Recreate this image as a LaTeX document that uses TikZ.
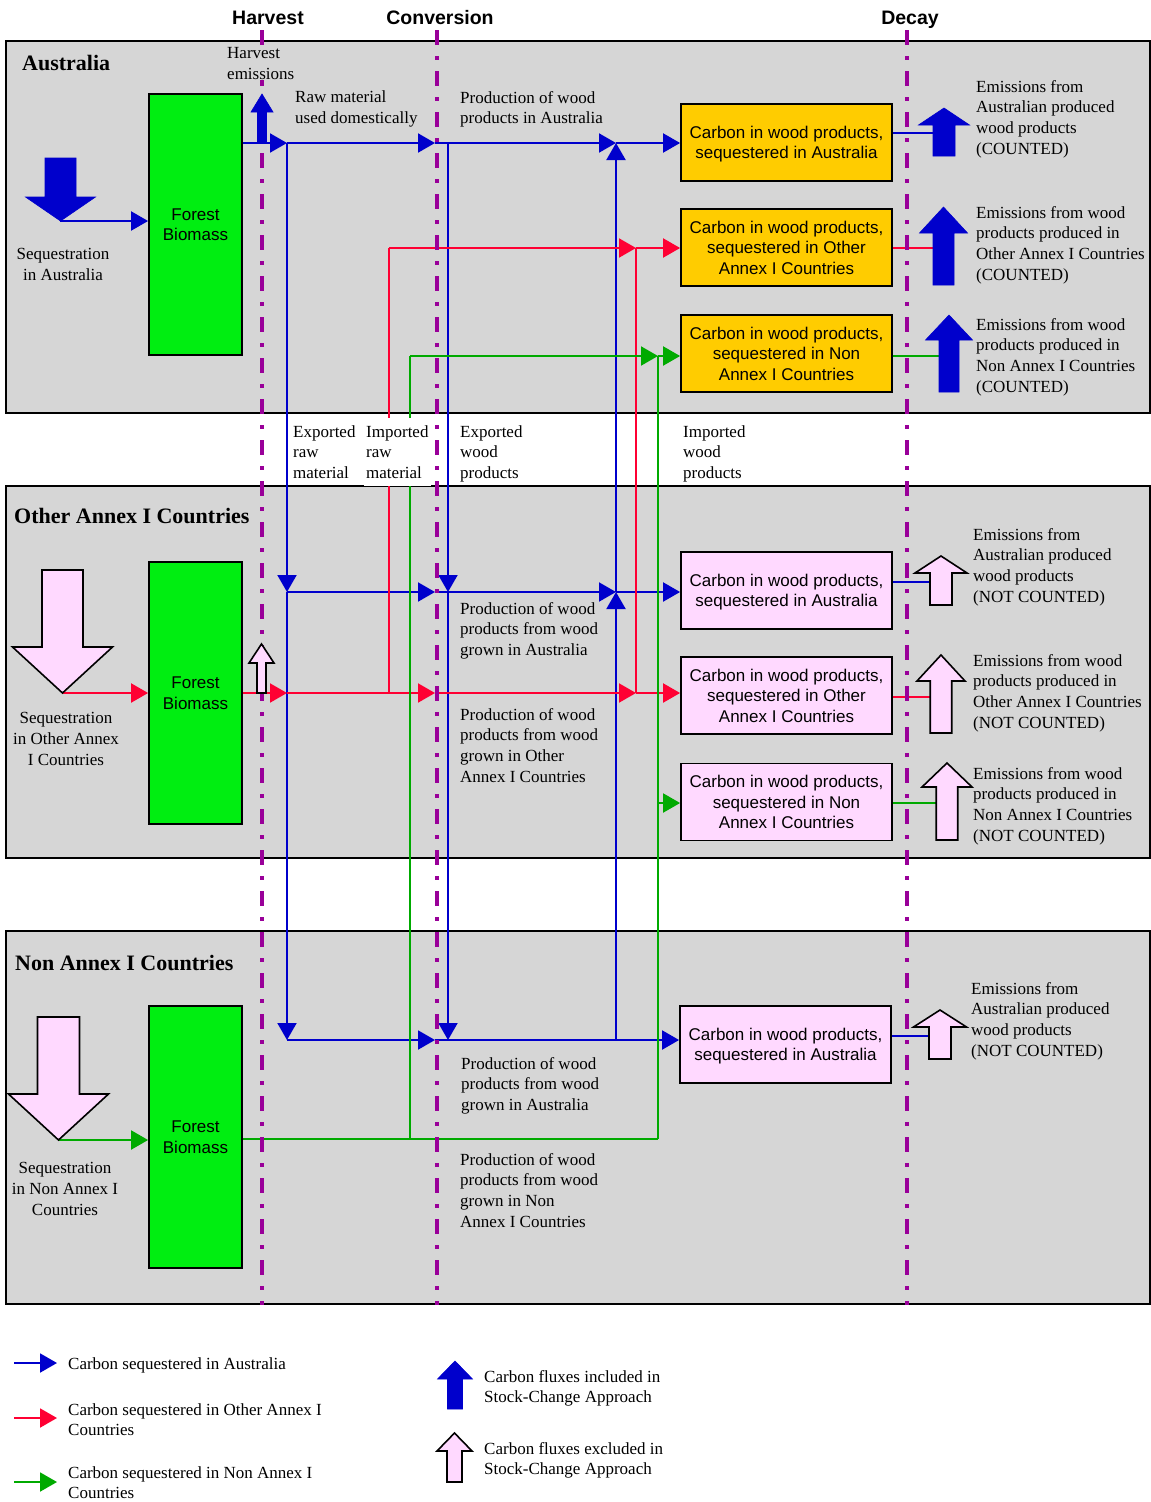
\documentclass[tikz,border=0pt]{standalone}
\usepackage{fontspec}
\setmainfont{Liberation Serif}
\setsansfont{Liberation Sans}
\usetikzlibrary{arrows.meta}
\definecolor{cblue}{RGB}{0,0,204}
\definecolor{cred}{RGB}{255,0,51}
\definecolor{cgreen}{RGB}{0,170,0}
\definecolor{cpurple}{RGB}{153,0,153}
\definecolor{cgray}{RGB}{214,214,214}
\definecolor{cpink}{RGB}{255,217,255}
\definecolor{cyellow}{RGB}{255,204,0}
\definecolor{cforest}{RGB}{0,238,17}
% style, tip x, tip y, head half width, head base y, shaft half width, bottom y
\newcommand{\blkarrow}[7]{\draw[#1] (#2,#3) -- (#2+#4,#5) -- (#2+#6,#5) -- (#2+#6,#7) -- (#2-#6,#7) -- (#2-#6,#5) -- (#2-#4,#5) -- cycle;}
\begin{document}
\begin{tikzpicture}[x=1pt,y=-1pt,
  region/.style={draw=black,line width=2pt,fill=cgray},
  forest/.style={draw=black,line width=1.8pt,fill=cforest,minimum width=93pt,minimum height=261pt,inner sep=0pt,font=\sffamily\fontsize{17}{20.5}\selectfont,align=center},
  cbox/.style={draw=black,line width=1.8pt,minimum width=211pt,minimum height=77pt,inner sep=0pt,font=\sffamily\fontsize{17}{20.5}\selectfont,align=center},
  ybox/.style={cbox,fill=cyellow},
  pbox/.style={cbox,fill=cpink},
  lbl/.style={font=\fontsize{17}{20.8}\selectfont,align=left,anchor=north west,inner sep=0pt},
  clbl/.style={font=\fontsize{17}{20.8}\selectfont,align=center,anchor=north,inner sep=0pt},
  ttl/.style={font=\bfseries\fontsize{22}{26}\selectfont,anchor=west,inner sep=0pt},
  phase/.style={font=\sffamily\bfseries\fontsize{19.5}{23}\selectfont,inner sep=0pt,anchor=base},
  divider/.style={cpurple,line width=4pt,dash pattern=on 15pt off 11pt on 4pt off 11pt},
  fl/.style={line width=2pt,-{Triangle[length=17pt,width=19pt]}},
  bl/.style={fl,cblue}, rl/.style={fl,cred}, gl/.style={fl,cgreen},
  bn/.style={line width=2pt,cblue}, rn/.style={line width=2pt,cred}, gn/.style={line width=2pt,cgreen},
  solidarr/.style={fill=cblue,draw=cblue,line width=0.6pt},
  hollowarr/.style={fill=cpink,draw=black,line width=1.6pt}
]
\fill[white] (0,0) rectangle (1151,1502);
\useasboundingbox (0,0) rectangle (1151,1502);

% regions
\draw[region] (6,41) rectangle (1150,413);
\draw[region] (6,486) rectangle (1150,858);
\draw[region] (6,931) rectangle (1150,1304);

% boxes
\node[forest] (fA) at (195.5,224.5) {Forest\\Biomass};
\node[forest,minimum height=262pt] (fO) at (195.5,693) {Forest\\Biomass};
\node[forest,minimum height=262pt] (fN) at (195.5,1137) {Forest\\Biomass};

\node[ybox] (yA1) at (786.5,142.5) {Carbon in wood products,\\\smash{sequestered in Australia}};
\node[ybox] (yA2) at (786.5,247.5) {Carbon in wood products,\\sequestered in Other\\Annex I Countries};
\node[ybox] (yA3) at (786.5,353.5) {Carbon in wood products,\\sequestered in Non\\Annex I Countries};

\node[pbox] (pO1) at (786.5,590.5) {Carbon in wood products,\\\smash{sequestered in Australia}};
\node[pbox] (pO2) at (786.5,695.5) {Carbon in wood products,\\sequestered in Other\\Annex I Countries};
\node[pbox] (pO3) at (786.5,802) {Carbon in wood products,\\sequestered in Non\\Annex I Countries};
\node[pbox] (pN1) at (785.5,1044.5) {Carbon in wood products,\\\smash{sequestered in Australia}};

% junction coordinates
\coordinate (sqA) at (60,221);
\coordinate (sqO) at (63,693);
\coordinate (sqN) at (58.5,1140);
\coordinate (a287) at (287,143);
\coordinate (a435) at (435,143);
\coordinate (a448) at (448,143);
\coordinate (a616) at (616,143);
\coordinate (o287) at (287,592);
\coordinate (o435) at (435,592);
\coordinate (o448) at (448,592);
\coordinate (o616) at (616,592);
\coordinate (n287) at (287,1040);
\coordinate (n435) at (435,1040);
\coordinate (n448) at (448,1040);
\coordinate (n616) at (616,1040);
\coordinate (ra389) at (389,248);
\coordinate (ra636) at (636,248);
\coordinate (ro287) at (287,693);
\coordinate (ro389) at (389,693);
\coordinate (ro435) at (435,693);
\coordinate (ro636) at (636,693);
\coordinate (ga410) at (410,356);
\coordinate (ga658) at (658,356);
\coordinate (go658) at (658,803);
\coordinate (gn410) at (410,1139);
\coordinate (gn658) at (658,1139);

% blue flows
\draw[bl] (sqA) -- (fA.west |- sqA);
\draw[bl] (fA.east |- a287) -- (a287);
\draw[bl] (a287) -- (a435);
\draw[bl] (a435) -- (a616);
\draw[bl] (a616) -- (yA1.west |- a616);
\draw[bl] (a287) -- (o287);
\draw[bl] (o287) -- (n287);
\draw[bl] (a448) -- (o448);
\draw[bl] (o448) -- (n448);
\draw[bl] (n616) -- (o616);
\draw[bl] (o616) -- (a616);
\draw[bl] (o287) -- (o435);
\draw[bl] (o435) -- (o616);
\draw[bl] (o616) -- (pO1.west |- o616);
\draw[bl] (n287) -- (n435);
\draw[bl] (n435) -- (pN1.west |- n435);

% red flows
\draw[rl] (sqO) -- (fO.west |- sqO);
\draw[rl] (fO.east |- ro287) -- (ro287);
\draw[rl] (ro287) -- (ro435);
\draw[rl] (ro435) -- (ro636);
\draw[rl] (ro636) -- (pO2.west |- ro636);
\draw[rn] (ro389) -- (ra389);
\draw[rl] (ra389) -- (ra636);
\draw[rl] (ra636) -- (yA2.west |- ra636);
\draw[rn] (ro636) -- (ra636);

% green flows
\draw[gl] (sqN) -- (fN.west |- sqN);
\draw[gn] (fN.east |- gn410) -- (gn658);
\draw[gn] (gn410) -- (ga410);
\draw[gl] (ga410) -- (ga658);
\draw[gl] (ga658) -- (yA3.west |- ga658);
\draw[gn] (gn658) -- (ga658);
\draw[gl] (go658) -- (pO3.west |- go658);

% emission connectors
\coordinate (eA1) at (933,133);
\coordinate (eA2) at (933,248);
\coordinate (eA3) at (939,356);
\coordinate (eO1) at (930,582);
\coordinate (eO2) at (930,697);
\coordinate (eO3) at (936,803);
\coordinate (eN1) at (929,1036);
\draw[bn,line width=1.6pt] (yA1.east |- eA1) -- (eA1);
\draw[rn,line width=1.6pt] (yA2.east |- eA2) -- (eA2);
\draw[gn,line width=1.6pt] (yA3.east |- eA3) -- (eA3);
\draw[bn,line width=1.6pt] (pO1.east |- eO1) -- (eO1);
\draw[rn,line width=1.6pt] (pO2.east |- eO2) -- (eO2);
\draw[gn,line width=1.6pt] (pO3.east |- eO3) -- (eO3);
\draw[bn,line width=1.6pt] (pN1.east |- eN1) -- (eN1);

% stage dividers
\coordinate (dvH1) at (262,30);
\coordinate (dvH2) at (262,1305);
\coordinate (dvC1) at (437,30);
\coordinate (dvC2) at (437,1305);
\coordinate (dvD1) at (907,30);
\coordinate (dvD2) at (907,1305);
\draw[divider] (dvH1) -- (dvH2);
\draw[divider] (dvC1) -- (dvC2);
\draw[divider] (dvD1) -- (dvD2);

% block arrows: sequestration
\blkarrow{solidarr}{60.5}{221}{35}{197}{15.5}{158}
\blkarrow{hollowarr}{62.5}{693}{50}{647}{20.5}{570}
\blkarrow{hollowarr}{58.5}{1140}{50}{1094}{21}{1017}
% harvest emissions
\blkarrow{solidarr}{262}{94}{11}{112}{4.5}{143}
\blkarrow{hollowarr}{261.5}{644}{12.5}{663}{4.5}{693}
% decay emissions
\blkarrow{solidarr}{944}{108}{25.5}{125}{11}{156}
\blkarrow{solidarr}{943.5}{207}{24}{233}{10.5}{285}
\blkarrow{solidarr}{949}{315}{23.5}{340}{10}{392}
\blkarrow{hollowarr}{941}{556}{26}{573}{11}{605}
\blkarrow{hollowarr}{941}{655}{24}{681}{10.75}{733}
\blkarrow{hollowarr}{947}{763}{25}{787}{10.75}{840}
\blkarrow{hollowarr}{940}{1010}{26.5}{1027}{11}{1059}
% legend arrows
\blkarrow{solidarr}{455}{1361}{17.5}{1379}{7.5}{1409}
\blkarrow{hollowarr}{454.5}{1433}{17.5}{1451}{7.5}{1482}

% legend lines
\coordinate (lgB1) at (14,1363);
\coordinate (lgB2) at (57,1363);
\coordinate (lgR1) at (14,1418);
\coordinate (lgR2) at (57,1418);
\coordinate (lgG1) at (14,1482);
\coordinate (lgG2) at (57,1482);
\draw[bl] (lgB1) -- (lgB2);
\draw[rl] (lgR1) -- (lgR2);
\draw[gl] (lgG1) -- (lgG2);

% phase titles
\node[phase] (phH) at (268,24) {Harvest};
\node[phase] (phC) at (440,24) {Conversion};
\node[phase] (phD) at (910,24) {Decay};

% region titles
\node[ttl] (tA) at (22,63) {Australia};
\node[ttl] (tO) at (14,516) {Other Annex I Countries};
\node[ttl] (tN) at (15,963) {Non Annex I Countries};

% labels
\node[lbl,fill=cgray,inner sep=1pt] (lHE) at (226,46) {Harvest\\emissions};
\node[lbl] (lRM) at (295,91) {Raw material\\used domestically};
\node[lbl] (lPA) at (460,91) {Production of wood\\products in Australia};
\node[clbl] (lSA) at (63,248) {Sequestration\\in Australia};
\node[clbl] (lSO) at (66,712) {Sequestration\\in Other Annex\\I Countries};
\node[clbl] (lSN) at (65,1162) {Sequestration\\in Non Annex I\\Countries};

\node[lbl] (lER) at (293,425) {Exported\\raw\\material};
\node[lbl,fill=white,inner xsep=2pt,inner ysep=7pt] (lIR) at (364,418) {Imported\\raw\\material};
\node[lbl] (lEW) at (460,425) {Exported\\wood\\products};
\node[lbl] (lIW) at (683,425) {Imported\\wood\\products};

\node[lbl] (lOP1) at (460,602) {Production of wood\\products from wood\\grown in Australia};
\node[lbl] (lOP2) at (460,708) {Production of wood\\products from wood\\grown in Other\\Annex I Countries};
\node[lbl] (lNP1) at (461,1057) {Production of wood\\products from wood\\grown in Australia};
\node[lbl] (lNP2) at (460,1153) {Production of wood\\products from wood\\grown in Non\\Annex I Countries};

\node[lbl] (lEA1) at (976,80) {Emissions from\\Australian produced\\wood products\\(COUNTED)};
\node[lbl] (lEA2) at (976,206) {Emissions from wood\\products produced in\\Other Annex I Countries\\(COUNTED)};
\node[lbl] (lEA3) at (976,318) {Emissions from wood\\products produced in\\Non Annex I Countries\\(COUNTED)};
\node[lbl] (lEO1) at (973,528) {Emissions from\\Australian produced\\wood products\\(NOT COUNTED)};
\node[lbl] (lEO2) at (973,654) {Emissions from wood\\products produced in\\Other Annex I Countries\\(NOT COUNTED)};
\node[lbl] (lEO3) at (973,767) {Emissions from wood\\products produced in\\Non Annex I Countries\\(NOT COUNTED)};
\node[lbl] (lEN1) at (971,982) {Emissions from\\Australian produced\\wood products\\(NOT COUNTED)};

% legend text
\node[lbl] (lgTB) at (68,1357) {Carbon sequestered in Australia};
\node[lbl] (lgTR) at (68,1403) {Carbon sequestered in Other Annex I\\Countries};
\node[lbl] (lgTG) at (68,1466) {Carbon sequestered in Non Annex I\\Countries};
\node[lbl] (lgTI) at (484,1370) {Carbon fluxes included in\\Stock-Change Approach};
\node[lbl] (lgTE) at (484,1442) {Carbon fluxes excluded in\\Stock-Change Approach};
\end{tikzpicture}
\end{document}
